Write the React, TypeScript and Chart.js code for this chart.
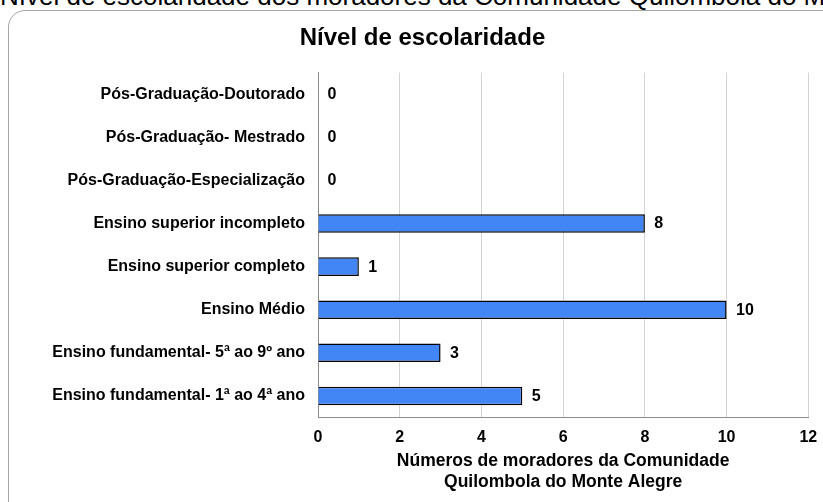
import React, { useEffect, useRef } from 'react';
import { Chart, registerables } from 'chart.js';

Chart.register(...registerables);

const pageTitle = 'Nível de escolaridade dos moradores da Comunidade Quilombola do Monte Alegre';
const chartTitle = 'Nível de escolaridade';
const categories = [
  'Pós-Graduação-Doutorado',
  'Pós-Graduação- Mestrado',
  'Pós-Graduação-Especialização',
  'Ensino superior incompleto',
  'Ensino superior completo',
  'Ensino Médio',
  'Ensino fundamental- 5ª ao 9º ano',
  'Ensino fundamental- 1ª ao 4ª ano',
];
const values = [0, 0, 0, 8, 1, 10, 3, 5];
const xMin = 0;
const xMax = 12;
const xStep = 2;
const xAxisTitle = ['Números de moradores da Comunidade', 'Quilombola do Monte Alegre'];

const FAMILY = '"Liberation Sans", Arial, sans-serif';

const dataLabels = {
  id: 'dataLabels',
  afterDatasetsDraw(chart: any) {
    const ctx = chart.ctx;
    const meta = chart.getDatasetMeta(0);
    ctx.save();
    ctx.font = `bold 16px ${FAMILY}`;
    ctx.fillStyle = '#000';
    ctx.textAlign = 'left';
    ctx.textBaseline = 'middle';
    meta.data.forEach((el: any, i: number) => {
      const v = chart.data.datasets[0].data[i];
      ctx.fillText(String(v), el.x + 9.5, el.y + 0.5);
    });
    ctx.restore();
  },
};

const boxTitle = {
  id: 'boxTitle',
  afterDraw(chart: any) {
    const ctx = chart.ctx;
    ctx.save();
    ctx.font = `bold 24px ${FAMILY}`;
    ctx.fillStyle = '#000';
    ctx.textAlign = 'center';
    ctx.textBaseline = 'middle';
    ctx.fillText(chartTitle, 422.5, 38);
    ctx.restore();
  },
};

export default function App() {
  const ref = useRef<HTMLCanvasElement | null>(null);

  useEffect(() => {
    if (!ref.current) return;
    const chart = new Chart(ref.current, {
      type: 'bar',
      data: {
        labels: categories,
        datasets: [
          {
            data: values,
            backgroundColor: '#4285F4',
            borderColor: '#000',
            borderWidth: 1.5,
            barPercentage: 0.43,
            categoryPercentage: 1,
          },
        ],
      },
      options: {
        indexAxis: 'y',
        animation: false,
        responsive: false,
        maintainAspectRatio: false,
        layout: { padding: { left: 0, right: 14.7, top: 72.6, bottom: 0 } },
        plugins: {
          legend: { display: false },
          tooltip: { enabled: false },
          title: { display: false },
        },
        scales: {
          x: {
            type: 'linear',
            min: xMin,
            max: xMax,
            ticks: {
              stepSize: xStep,
              color: '#000',
              font: { family: FAMILY, size: 16, weight: 'bold' },
              padding: 10,
            },
            grid: { color: '#d4d4d4', lineWidth: 1, drawTicks: false },
            border: { color: '#8c8c8c', width: 1 },
            title: {
              display: true,
              text: xAxisTitle,
              color: '#000',
              font: { family: FAMILY, size: 17.5, weight: 'bold', lineHeight: 1.2 },
              padding: { top: 0, bottom: 9.6 },
            },
            afterFit: (s: any) => {
              s.height = 84.5;
              s.paddingLeft = 0;
              s.paddingRight = 0;
            },
          },
          y: {
            type: 'category',
            grid: { display: false, drawTicks: false },
            border: { color: '#8c8c8c', width: 1 },
            ticks: {
              color: '#000',
              font: { family: FAMILY, size: 16, weight: 'bold' },
              padding: 13,
            },
            afterFit: (s: any) => {
              s.width = 318;
              s.paddingTop = 0;
              s.paddingBottom = 0;
            },
          },
        },
      },
      plugins: [dataLabels, boxTitle],
    } as any);
    return () => chart.destroy();
  }, []);

  return (
    <div
      style={{
        position: 'fixed',
        left: 0,
        top: 0,
        width: 823,
        height: 502,
        overflow: 'hidden',
        background: '#fff',
      }}
    >
      <div
        style={{
          position: 'absolute',
          left: 8,
          top: 10,
          width: 860,
          height: 510,
          border: '1px solid #a6a6a6',
          borderRadius: 17,
          boxSizing: 'border-box',
        }}
      />
      <div
        style={{
          position: 'absolute',
          left: 0,
          top: -17,
          fontFamily: FAMILY,
          fontSize: 26,
          lineHeight: '26px',
          whiteSpace: 'nowrap',
          color: '#000',
        }}
      >
        {pageTitle}
      </div>
      <canvas
        ref={ref}
        width={823}
        height={502}
        style={{ position: 'absolute', left: 0, top: 0, width: 823, height: 502 }}
      />
    </div>
  );
}
